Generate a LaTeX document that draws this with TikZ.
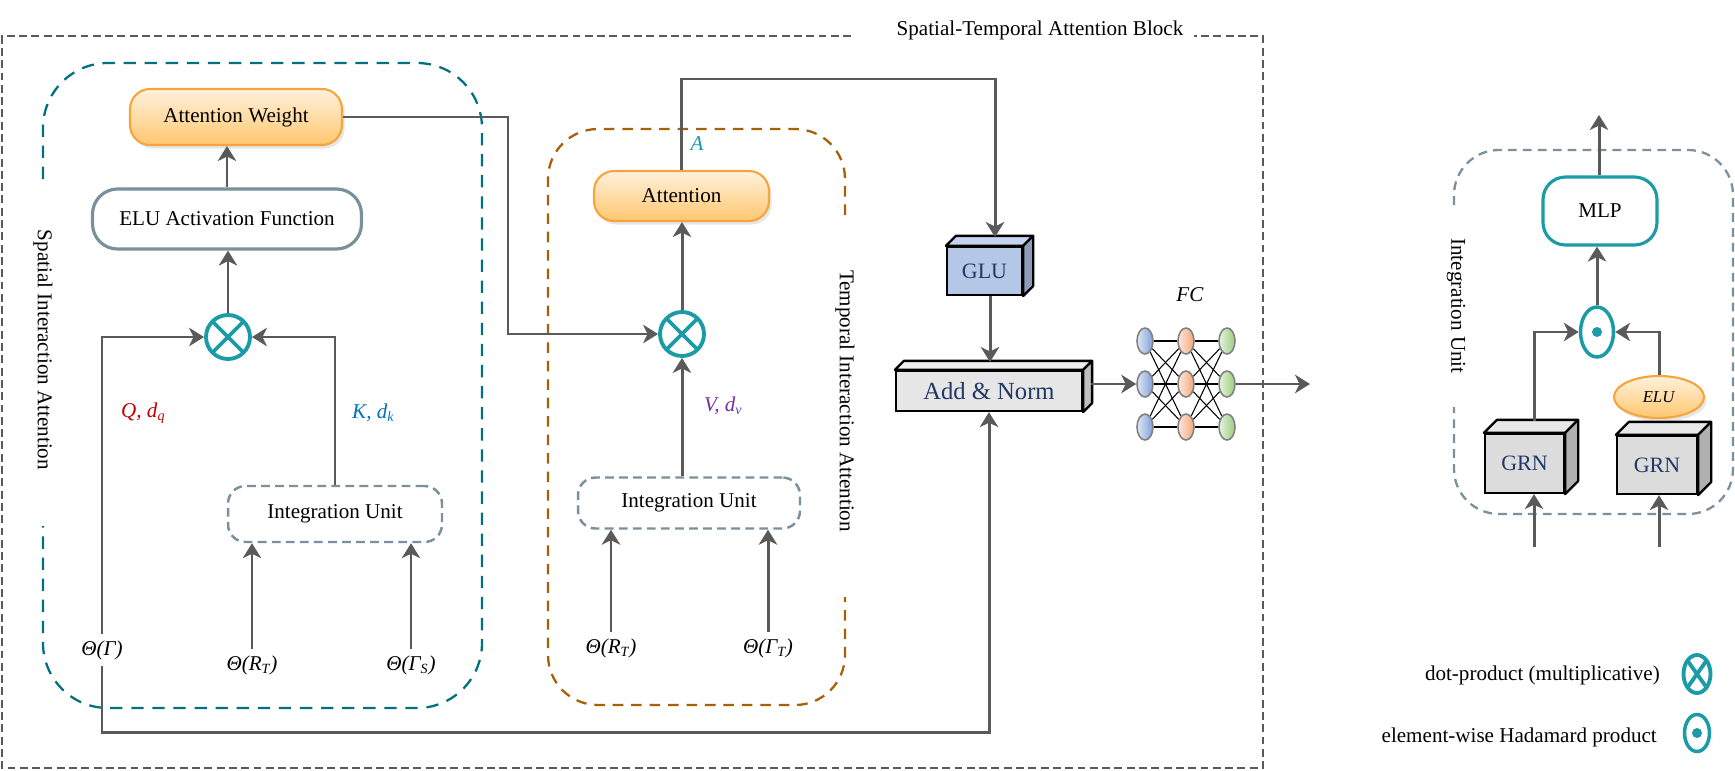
\documentclass[tikz,border=0pt]{standalone}
\usepackage{fontspec}
\setmainfont{Liberation Serif}
\usepackage{tikz}
\usetikzlibrary{arrows.meta,shapes.geometric,calc,shadows,backgrounds}

\definecolor{cline}{HTML}{5A5A5A}
\definecolor{mteal}{HTML}{1A9BA6}
\definecolor{steal}{HTML}{00717C}
\definecolor{tbrown}{HTML}{A85F05}
\definecolor{iugray}{HTML}{7A909C}
\definecolor{aworange}{HTML}{F7A43C}
\definecolor{awtop}{HTML}{FFF1DC}
\definecolor{awbot}{HTML}{FFC76F}
\definecolor{cubetext}{HTML}{1F3864}
\definecolor{glufront}{HTML}{B4C7E7}
\definecolor{gluside}{HTML}{8D9DB8}
\definecolor{glutop}{HTML}{C5D4EE}
\definecolor{anfront}{HTML}{E7E6E6}
\definecolor{anside}{HTML}{BFBFBF}
\definecolor{antop}{HTML}{EEEEEE}
\definecolor{grnfront}{HTML}{DCDCDC}
\definecolor{grnside}{HTML}{B0B0B0}
\definecolor{grntop}{HTML}{E8E8E8}
\definecolor{qred}{HTML}{C00000}
\definecolor{kblue}{HTML}{0070C0}
\definecolor{vpurple}{HTML}{7030A0}
\definecolor{nblue}{HTML}{7F9FD8}
\definecolor{norange}{HTML}{F4A57A}
\definecolor{ngreen}{HTML}{9ACD7E}

\tikzset{
	conn/.style={draw=cline, line width=1.7pt},
	outerframe/.style={draw=cline, line width=1.3pt, dash pattern=on 4.5pt off 2.5pt},
	spatialframe/.style={draw=steal, line width=1.3pt, dash pattern=on 7pt off 5pt, rounded corners=1.3cm},
	temporalframe/.style={draw=tbrown, line width=1.3pt, dash pattern=on 6pt off 4.5pt, rounded corners=1.0cm},
	iuframe/.style={draw=iugray, line width=1.3pt, dash pattern=on 5pt off 3.5pt, rounded corners=0.9cm},
	orangebox/.style={rounded corners=0.4cm, draw=aworange, line width=1.2pt, top color=awtop, bottom color=awbot,
		drop shadow={opacity=0.2, shadow xshift=1.5pt, shadow yshift=-2pt}},
	elubox/.style={rounded corners=0.5cm, draw=iugray, line width=1.8pt, fill=white},
	iubox/.style={rounded corners=0.35cm, draw=iugray, line width=1.4pt, dash pattern=on 5pt off 3pt, fill=white},
	mlpbox/.style={rounded corners=0.45cm, draw=mteal, line width=1.8pt, fill=white},
	cube/.style={draw=black, line width=1.3pt, text=cubetext, inner sep=0pt, font=\fontsize{12.5}{14}\selectfont},
	cubeline/.style={draw=black, line width=1.3pt, line join=round},
	otimes/.style={ellipse, draw=mteal, line width=2.2pt, minimum width=0.88cm, minimum height=0.88cm, inner sep=0pt, fill=white,
		path picture={\draw[mteal, line width=2.2pt] (path picture bounding box.north west) -- (path picture bounding box.south east)
			(path picture bounding box.north east) -- (path picture bounding box.south west);}},
	odot/.style={ellipse, draw=mteal, line width=2pt, inner sep=0pt, fill=white,
		path picture={\fill[mteal] (path picture bounding box.center) circle (0.1cm);}},
	neuron/.style={ellipse, draw=gray, line width=0.9pt, minimum width=0.32cm, minimum height=0.52cm, inner sep=0pt},
	eluball/.style={ellipse, draw=aworange, line width=1.2pt, top color=awtop, bottom color=awbot, minimum width=1.8cm,
		minimum height=0.84cm, inner sep=0pt, font=\fontsize{9.5}{11}\selectfont,
		drop shadow={opacity=0.2, shadow xshift=1.5pt, shadow yshift=-2pt}}
}

\newcommand{\cubefaces}[4]{%
	\draw[cubeline, fill=#4] (#1.north west) -- ++(#2,-#2) -- ($(#1.north east)+(#2,-#2)$) -- (#1.north east) -- cycle;
	\draw[cubeline, fill=#3] (#1.north east) -- ++(#2,-#2) -- ($(#1.south east)+(#2,-#2)$) -- (#1.south east) -- cycle;
}

\begin{document}
\begin{tikzpicture}[x=0.02cm, y=-0.02cm, >={Stealth[length=8.5pt,width=10.5pt,inset=2.5pt]}, font=\fontsize{12}{14}\selectfont]
	\useasboundingbox (0,0) rectangle (1735,771);

	\draw[outerframe] (851,36) -- (2,36) -- (2,768) -- (1263,768) -- (1263,36) -- (1194,36);
	\node (title) at (1040,30) {Spatial-Temporal Attention Block};

	\draw[spatialframe] (43,179) -- (43,63) -- (482,63) -- (482,708) -- (43,708) -- (43,526);
	\node[rotate=-90] (spl) at (43,350) {Spatial Interaction Attention};
	\draw[temporalframe] (845,215) -- (845,129) -- (548,129) -- (548,705) -- (845,705) -- (845,597);
	\node[rotate=-90] (tpl) at (845,401) {Temporal Interaction Attention};
	\draw[iuframe] (1454,205) -- (1454,150) -- (1733,150) -- (1733,514) -- (1454,514) -- (1454,407);
	\node[rotate=-90] (iul) at (1456,306) {Integration Unit};

	\node[orangebox, minimum width=4.24cm, minimum height=1.12cm] (aw) at (236,117) {Attention Weight};
	\node[elubox, minimum width=5.38cm, minimum height=1.2cm] (elu) at (227,219) {ELU Activation Function};
	\node[otimes] (mulS) at (228,337) {};
	\node[iubox, minimum width=4.28cm, minimum height=1.12cm] (iuS) at (335,514) {Integration Unit};
	\node (thG) at (102,650) {\textit{Θ(Γ)}};
	\node (thRS) at (252,665) {\textit{Θ(R\textsubscript{T})}};
	\node (thGS) at (411,665) {\textit{Θ(Γ\textsubscript{S})}};
	\node[anchor=west, text=qred] (q) at (115,413) {\textit{Q, d\textsubscript{q}}};
	\node[anchor=west, text=kblue] (k) at (346,413) {\textit{K, d\textsubscript{k}}};

	\draw[conn,->] (thG.north) |- (mulS.west);
	\draw[conn,->] (iuS.north) |- (mulS.east);
	\draw[conn,->] (mulS.north) -- (mulS.north |- elu.south);
	\draw[conn,->] (elu.north) -- (elu.north |- aw.south);
	\draw[conn,->] (thRS.north) -- (thRS.north |- iuS.south);
	\draw[conn,->] (thGS.north) -- (thGS.north |- iuS.south);

	\node[orangebox, minimum width=3.5cm, minimum height=1.0cm] (att) at (681.5,196) {Attention};
	\node[otimes] (mulT) at (682,334) {};
	\node[iubox, minimum width=4.44cm, minimum height=1.02cm] (iuT) at (689,503) {Integration Unit};
	\node (thRT) at (611,648) {\textit{Θ(R\textsubscript{T})}};
	\node (thGT) at (768,648) {\textit{Θ(Γ\textsubscript{T})}};
	\node[anchor=west, text=vpurple] (v) at (698,406) {\textit{V, d\textsubscript{v}}};
	\node[text=mteal] (a) at (697,144) {\textit{A}};

	\coordinate (awbend) at (508,334);
	\draw[conn,->] (aw.east) -| (awbend) -- (mulT.west);
	\draw[conn,->] (iuT.north -| mulT) -- (mulT.south);
	\draw[conn,->] (mulT.north) -- (mulT.north |- att.south);
	\draw[conn,->] (thRT.north) -- (thRT.north |- iuT.south);
	\draw[conn,->] (thGT.north) -- (thGT.north |- iuT.south);

	\node[cube, fill=glufront, minimum width=1.5cm, minimum height=0.96cm] (glu) at (984.5,271) {GLU};
	\cubefaces{glu}{10}{gluside}{glutop}
	\node[cube, fill=anfront, minimum width=3.72cm, minimum height=0.8cm, font=\fontsize{14}{16}\selectfont] (an) at (989,391) {Add \& Norm};
	\cubefaces{an}{9}{anside}{antop}

	\coordinate (attbend) at (995,79);
	\coordinate (gluin) at (995,237);
	\draw[conn,->] (att.north) |- (attbend) -- (gluin);
	\coordinate (anin) at (990,362);
	\draw[conn,->] (glu.south -| anin) -- (anin);
	\coordinate (resid) at (102,732);
	\draw[conn,->] (thG.south) -- (resid) -| (an.south);

	\foreach \cl/\col in {1/nblue,2/norange,3/ngreen}
		\foreach \rw in {1,2,3}
			\node[neuron, left color=\col!25!white, right color=\col] (n\cl\rw) at ({1104+41*\cl},{298+43*\rw}) {};
	\begin{scope}[on background layer]
		\foreach \i in {1,2,3}
			\foreach \j in {1,2,3} {
				\draw[black, line width=0.6pt] (n1\i) -- (n2\j);
				\draw[black, line width=0.6pt] (n2\i) -- (n3\j);
			}
	\end{scope}
	\node (fc) at (1190,295) {\textit{FC}};
	\coordinate (anout) at (1091,384);
	\draw[conn,->] (anout) -- (n12.west);
	\coordinate (fcout) at (1310,384);
	\draw[conn,->] (n32.east) -- (fcout);

	\node[mlpbox, minimum width=2.28cm, minimum height=1.36cm] (mlp) at (1600,211) {MLP};
	\node[odot, minimum width=0.66cm, minimum height=1.0cm] (had) at (1597,332) {};
	\node[cube, fill=grnfront, minimum width=1.58cm, minimum height=1.18cm] (grnL) at (1524.5,463.5) {GRN};
	\cubefaces{grnL}{13}{grnside}{grntop}
	\node[cube, fill=grnfront, minimum width=1.6cm, minimum height=1.16cm] (grnR) at (1657,465) {GRN};
	\cubefaces{grnR}{13}{grnside}{grntop}
	\node[eluball] (eluR) at (1659,397) {\textit{ELU}};

	\coordinate (grnLout) at (1534,421);
	\draw[conn,->] (grnLout) |- (had.west);
	\draw[conn,->] (eluR.north) |- (had.east);
	\draw[conn,->] (had.north) -- (had.north |- mlp.south);
	\coordinate (mlpout) at (1599,115);
	\draw[conn,->] (mlp.north -| mlpout) -- (mlpout);
	\coordinate (inL) at (1534,547);
	\coordinate (inR) at (1659,547);
	\draw[conn,->] (inL) -- (inL |- grnL.south);
	\draw[conn,->] (inR) -- (inR |- grnR.south);

	\node[anchor=east] (lg1) at (1666,675) {dot-product (multiplicative)};
	\node[otimes, minimum width=0.54cm, minimum height=0.76cm] (lgmul) at (1697,674) {};
	\node[anchor=east] (lg2) at (1663,737) {element-wise Hadamard product};
	\node[odot, minimum width=0.5cm, minimum height=0.74cm] (lghad) at (1697,733) {};
\end{tikzpicture}
\end{document}
